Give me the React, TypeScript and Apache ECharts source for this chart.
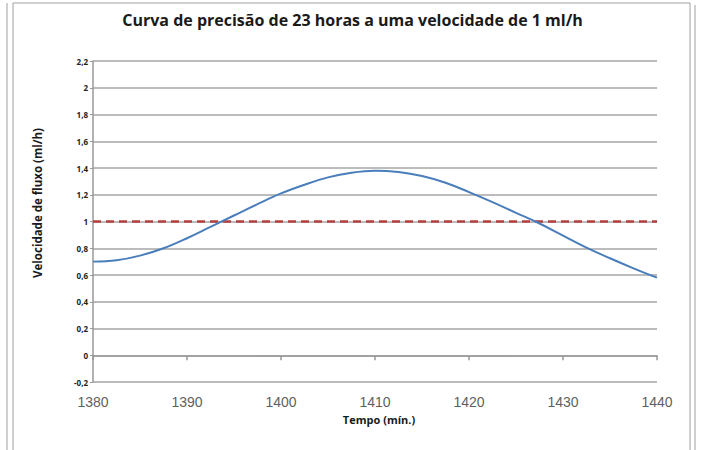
import { useEffect, useRef } from "react";
import * as echarts from "echarts";

// Measured flow over time (minutes)
const timeMin = [
  1380, 1382.5, 1385, 1387.5, 1390, 1392.5, 1395, 1397.5, 1400, 1402.5, 1405, 1407.5, 1410,
  1412.5, 1415, 1417.5, 1420, 1422.5, 1425, 1427.5, 1430, 1432.5, 1435, 1437.5, 1440,
];
const flowRate = [
  0.7, 0.71, 0.745, 0.8, 0.875, 0.96, 1.045, 1.13, 1.21, 1.275, 1.33, 1.365, 1.38,
  1.37, 1.34, 1.29, 1.22, 1.145, 1.065, 0.985, 0.895, 0.805, 0.725, 0.65, 0.58,
];
// Nominal rate (1 ml/h)
const nominalTime = [1380, 1440];
const nominalRate = [1, 1];

const xMin = 1380;
const xMax = 1440;
const xStep = 10;
const yMin = -0.2;
const yMax = 2.2;
const yStep = 0.2;

const titleText = "Curva de precisão de 23 horas a uma velocidade de 1 ml/h";
const yName = "Velocidade de fluxo (ml/h)";
const xName = "Tempo (mín.)";

export default function App() {
  const ref = useRef<HTMLDivElement>(null);
  useEffect(() => {
    const chart = echarts.init(ref.current!, null, { renderer: "svg" });
    const frame = "#a0a0a0";
    chart.setOption({
      animation: false,
      backgroundColor: "#ffffff",
      title: {
        text: titleText,
        left: "center",
        top: 7,
        textStyle: {
          fontFamily: "Open Sans",
          fontSize: 16,
          fontWeight: "bold",
          color: "#1a1a1a",
        },
      },
      graphic: [
        { type: "line", shape: { x1: 13, y1: 3, x2: 690, y2: 3 }, style: { stroke: frame, lineWidth: 1 } },
        { type: "line", shape: { x1: 13, y1: 3, x2: 13, y2: 452 }, style: { stroke: frame, lineWidth: 1 } },
        { type: "line", shape: { x1: 690, y1: 3, x2: 690, y2: 452 }, style: { stroke: frame, lineWidth: 1 } },
        { type: "line", shape: { x1: 7, y1: 3, x2: 7, y2: 452 }, style: { stroke: frame, lineWidth: 1 } },
        { type: "line", shape: { x1: 695, y1: 5, x2: 695, y2: 452 }, style: { stroke: frame, lineWidth: 1 } },
        {
          type: "text",
          x: 37,
          y: 203,
          rotation: Math.PI / 2,
          style: {
            text: yName,
            fontFamily: "Open Sans",
            fontSize: 11.5,
            fontWeight: "bold",
            fill: "#1a1a1a",
            align: "center",
            verticalAlign: "middle",
          },
        },
        {
          type: "text",
          x: 379,
          y: 419,
          style: {
            text: xName,
            fontFamily: "Open Sans",
            fontSize: 11,
            fontWeight: "bold",
            fill: "#1a1a1a",
            align: "center",
            verticalAlign: "middle",
          },
        },
      ],
      grid: { left: 93, right: 48, top: 61, bottom: 68, outerBoundsMode: "none" },
      xAxis: {
        type: "value",
        min: xMin,
        max: xMax,
        interval: xStep,
        axisLine: { show: true, onZero: true, lineStyle: { color: "#999999", width: 1.5 } },
        axisTick: { show: true, length: 5, lineStyle: { color: "#999999", width: 1.5 } },
        axisLabel: {
          margin: 13,
          fontFamily: "Liberation Sans",
          fontSize: 14,
          color: "#5f5f5f",
          formatter: (v: number) => String(v),
        },
        splitLine: { show: false },
      },
      yAxis: {
        type: "value",
        min: yMin,
        max: yMax,
        interval: yStep,
        axisLine: { show: true, lineStyle: { color: "#999999", width: 1.5 } },
        axisTick: { show: true, length: 3, lineStyle: { color: "#999999" } },
        axisLabel: {
          margin: 5,
          fontFamily: "Open Sans",
          fontSize: 8,
          fontWeight: "bold",
          color: "#222222",
          formatter: (v: number) => String(Math.round(v * 10) / 10).replace(".", ","),
        },
        splitLine: { show: true, lineStyle: { color: "#a6a6a6", width: 1.5 } },
      },
      series: [
        {
          type: "line",
          data: nominalTime.map((t, i) => [t, nominalRate[i]]),
          symbol: "none",
          lineStyle: { color: "#b3403f", width: 2.5, type: [8, 5] },
          z: 3,
        },
        {
          type: "line",
          data: timeMin.map((t, i) => [t, flowRate[i]]),
          symbol: "none",
          smooth: 0.4,
          lineStyle: { color: "#4a7ebb", width: 2 },
          z: 4,
        },
      ],
    });
    return () => chart.dispose();
  }, []);
  return <div ref={ref} style={{ position: "absolute", left: 0, top: 0, width: 705, height: 450 }} />;
}
